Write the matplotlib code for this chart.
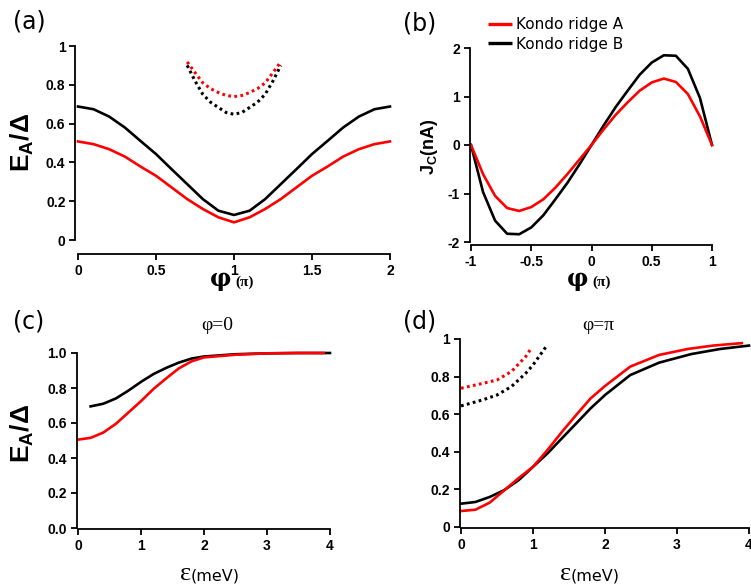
import matplotlib
matplotlib.use("Agg")
import matplotlib.pyplot as plt
from matplotlib.ticker import FixedLocator, FixedFormatter

# ---------------- data ----------------
# (a) Andreev bound state energy vs phase
phi_a = [0.0, 0.1, 0.2, 0.3, 0.4, 0.5, 0.6, 0.7, 0.8, 0.9, 1.0,
         1.1, 1.2, 1.3, 1.4, 1.5, 1.6, 1.7, 1.8, 1.9, 2.0]
ea_red = [0.508, 0.494, 0.468, 0.43, 0.379, 0.331, 0.271, 0.211, 0.16, 0.117, 0.091,
          0.117, 0.16, 0.211, 0.271, 0.331, 0.379, 0.43, 0.468, 0.494, 0.508]
ea_black = [0.688, 0.674, 0.636, 0.58, 0.511, 0.443, 0.365, 0.288, 0.211, 0.151, 0.129,
            0.151, 0.211, 0.288, 0.365, 0.443, 0.511, 0.58, 0.636, 0.674, 0.688]
phi_dot = [0.7, 0.75, 0.8, 0.85, 0.9, 0.95, 1.0, 1.05, 1.1, 1.15, 1.2, 1.25, 1.3]
ea_red_dot = [0.918, 0.863, 0.81, 0.78, 0.76, 0.745, 0.739, 0.745, 0.76, 0.78, 0.81, 0.863, 0.918]
ea_black_dot = [0.90, 0.82, 0.751, 0.71, 0.683, 0.657, 0.648, 0.657, 0.683, 0.71, 0.751, 0.82, 0.90]

# (b) Josephson current vs phase
phi_b = [-1.0, -0.9, -0.8, -0.7, -0.6, -0.5, -0.4, -0.3, -0.2, -0.1, 0.0,
         0.1, 0.2, 0.3, 0.4, 0.5, 0.6, 0.7, 0.8, 0.9, 1.0]
jc_red = [0.0, -0.6, -1.05, -1.3, -1.36, -1.28, -1.12, -0.88, -0.6, -0.3, 0.0,
          0.32, 0.62, 0.88, 1.12, 1.29, 1.37, 1.30, 1.05, 0.59, 0.0]
jc_black = [0.0, -0.97, -1.56, -1.83, -1.84, -1.70, -1.45, -1.12, -0.78, -0.4, 0.0,
            0.4, 0.78, 1.12, 1.45, 1.70, 1.85, 1.84, 1.57, 0.97, 0.0]

# (c) E_A vs epsilon at phi = 0
eps_c_red = [0.0, 0.2, 0.4, 0.6, 0.8, 1.0, 1.2, 1.4, 1.6, 1.8, 2.0, 2.5, 3.0, 3.5, 3.9]
ea_c_red = [0.505, 0.515, 0.545, 0.595, 0.66, 0.725, 0.795, 0.855, 0.912, 0.952, 0.975, 0.99, 0.998, 1.0, 1.0]
eps_c_black = [0.2, 0.4, 0.6, 0.8, 1.0, 1.2, 1.4, 1.6, 1.8, 2.0, 2.5, 3.0, 3.5, 4.0]
ea_c_black = [0.695, 0.71, 0.74, 0.785, 0.835, 0.88, 0.915, 0.945, 0.968, 0.98, 0.993, 0.998, 1.0, 1.0]

# (d) E_A vs epsilon at phi = pi
eps_d_red = [0.0, 0.2, 0.4, 0.6, 0.8, 1.0, 1.2, 1.4, 1.6, 1.8, 2.0, 2.35, 2.75, 3.15, 3.5, 3.9]
ea_d_red = [0.085, 0.092, 0.13, 0.195, 0.26, 0.32, 0.409, 0.505, 0.596, 0.684, 0.75, 0.853, 0.915, 0.947, 0.965, 0.978]
eps_d_black = [0.0, 0.2, 0.4, 0.6, 0.8, 1.0, 1.2, 1.4, 1.6, 1.8, 2.0, 2.35, 2.75, 3.2, 3.6, 4.0]
ea_d_black = [0.124, 0.133, 0.16, 0.196, 0.249, 0.32, 0.391, 0.471, 0.551, 0.631, 0.702, 0.808, 0.874, 0.92, 0.947, 0.965]
eps_d_red_dot = [0.0, 0.3, 0.5, 0.7, 0.9, 0.97]
ea_d_red_dot = [0.738, 0.764, 0.782, 0.827, 0.907, 0.948]
eps_d_black_dot = [0.0, 0.3, 0.5, 0.7, 0.9, 1.0, 1.2]
ea_d_black_dot = [0.644, 0.676, 0.702, 0.747, 0.818, 0.862, 0.969]

legend_labels = ["Kondo ridge A", "Kondo ridge B"]

# ---------------- figure ----------------
W, H = 751, 585
fig = plt.figure(figsize=(W / 100, H / 100), dpi=100)

TICKFONT = dict(family="Liberation Sans", weight="bold", size=10)
RED = "#ff0000"
BLK = "#000000"
LW = 1.9
DOT = (0, (0.9, 1.1))


def ax_px(x0, x1, ytop, ybot):
    return fig.add_axes([x0 / W, (H - ybot) / H, (x1 - x0) / W, (ybot - ytop) / H])


def style(ax, xticks, xlabels, yticks, ylabels, xlim, ylim, boff, loff):
    ax.set_xlim(*xlim)
    ax.set_ylim(*ylim)
    for s in ("top", "right"):
        ax.spines[s].set_visible(False)
    for s in ("bottom", "left"):
        ax.spines[s].set_linewidth(1.3)
    ax.spines["bottom"].set_position(("outward", boff))
    ax.spines["left"].set_position(("outward", loff))
    ax.xaxis.set_major_locator(FixedLocator(xticks))
    ax.xaxis.set_major_formatter(FixedFormatter(xlabels))
    ax.yaxis.set_major_locator(FixedLocator(yticks))
    ax.yaxis.set_major_formatter(FixedFormatter(ylabels))
    ax.tick_params(direction="out", length=4, width=1.3, pad=3)
    for lab in ax.get_xticklabels() + ax.get_yticklabels():
        lab.set_fontfamily(TICKFONT["family"])
        lab.set_fontweight(TICKFONT["weight"])
        lab.set_fontsize(TICKFONT["size"])
    ax.patch.set_visible(False)


# (a)
axa = ax_px(78, 390, 46, 240)
axa.plot(phi_a, ea_black, color=BLK, lw=LW, clip_on=False)
axa.plot(phi_a, ea_red, color=RED, lw=LW, clip_on=False)
axa.plot(phi_dot, ea_black_dot, color=BLK, lw=2.2, ls=DOT, clip_on=False)
axa.plot(phi_dot, ea_red_dot, color=RED, lw=2.2, ls=DOT, clip_on=False)
style(axa, [0, 0.5, 1, 1.5, 2], ["0", "0.5", "1", "1.5", "2"],
      [0, 0.2, 0.4, 0.6, 0.8, 1], ["0", "0.2", "0.4", "0.6", "0.8", "1"],
      (0, 2), (0, 1), 10, 2)

# (b)
axb = ax_px(471, 712, 48, 242)
lb, = axb.plot(phi_b, jc_black, color=BLK, lw=LW, clip_on=False)
lr, = axb.plot(phi_b, jc_red, color=RED, lw=LW, clip_on=False)
style(axb, [-1, -0.5, 0, 0.5, 1], ["-1", "-0.5", "0", "0.5", "1"],
      [-2, -1, 0, 1, 2], ["-2", "-1", "0", "1", "2"],
      (-1, 1), (-2, 2), 2, 1)
leg = fig.legend([lr, lb], legend_labels, loc="upper left",
                 bbox_to_anchor=(488 / W, 1 - 17 / H), frameon=False,
                 prop=dict(family="DejaVu Sans", size=11), handlelength=1.6,
                 handletextpad=0.25, labelspacing=0.3, borderaxespad=0, borderpad=0)
for ln in leg.get_lines():
    ln.set_linewidth(2.4)
    ln.set_solid_capstyle("butt")

# (c)
axc = ax_px(78, 330, 353, 528)
axc.plot(eps_c_black, ea_c_black, color=BLK, lw=LW, clip_on=False)
axc.plot(eps_c_red, ea_c_red, color=RED, lw=LW, clip_on=False)
style(axc, [0, 1, 2, 3, 4], ["0", "1", "2", "3", "4"],
      [0, 0.2, 0.4, 0.6, 0.8, 1.0], ["0.0", "0.2", "0.4", "0.6", "0.8", "1.0"],
      (0, 4), (0, 1), 1, 1)

# (d)
axd = ax_px(461, 749, 339, 527)
axd.plot(eps_d_black, ea_d_black, color=BLK, lw=LW, clip_on=False)
axd.plot(eps_d_red, ea_d_red, color=RED, lw=LW, clip_on=False)
axd.plot(eps_d_black_dot, ea_d_black_dot, color=BLK, lw=2.2, ls=DOT, clip_on=False)
axd.plot(eps_d_red_dot, ea_d_red_dot, color=RED, lw=2.2, ls=DOT, clip_on=False)
style(axd, [0, 1, 2, 3, 4], ["0", "1", "2", "3", "4"],
      [0, 0.2, 0.4, 0.6, 0.8, 1], ["0", "0.2", "0.4", "0.6", "0.8", "1"],
      (0, 4), (0, 1), 1, 1)


def ftext(x, y, s, **kw):
    fig.text(x / W, 1 - y / H, s, **kw)


# panel labels
for (x, y, s) in [(13, 21, "(a)"), (403, 24, "(b)"), (13, 322, "(c)"), (403, 321, "(d)")]:
    ftext(x, y, s, ha="left", va="center", family="DejaVu Sans", size=17)

# y labels
plt.rcParams["mathtext.fontset"] = "custom"
plt.rcParams["mathtext.bf"] = "Liberation Sans:bold"
plt.rcParams["mathtext.rm"] = "Liberation Sans:bold"
ftext(22, 142, r"$\mathbf{E_A/}\Delta$", rotation=90, ha="center", va="center", size=19)
ftext(22, 433, r"$\mathbf{E_A/}\Delta$", rotation=90, ha="center", va="center", size=19)
ftext(429, 147, r"$\mathbf{J_C}$" + "(nA)", rotation=90, ha="center", va="center",
      size=13, family="Liberation Sans", weight="bold")

# x labels  phi(pi)
for xc in (231, 588):
    ftext(xc, 279, "φ", ha="right", va="center", family="DejaVu Serif", weight="bold", size=17)
    ftext(xc + 4, 282, "(π)", ha="left", va="center", family="Liberation Serif", weight="bold", size=11)

# x labels epsilon(meV)
for xc in (191, 571):
    ftext(xc, 574, "ε", ha="right", va="center", family="Liberation Serif", size=19)
    ftext(xc, 576, "(meV)", ha="left", va="center", family="DejaVu Sans", size=11.5)

# titles
ftext(217, 325, "φ=0", ha="center", va="center", family="Liberation Serif", size=14)
ftext(598, 326, "φ=π", ha="center", va="center", family="Liberation Serif", size=14)

fig.savefig("out.png", dpi=100)
